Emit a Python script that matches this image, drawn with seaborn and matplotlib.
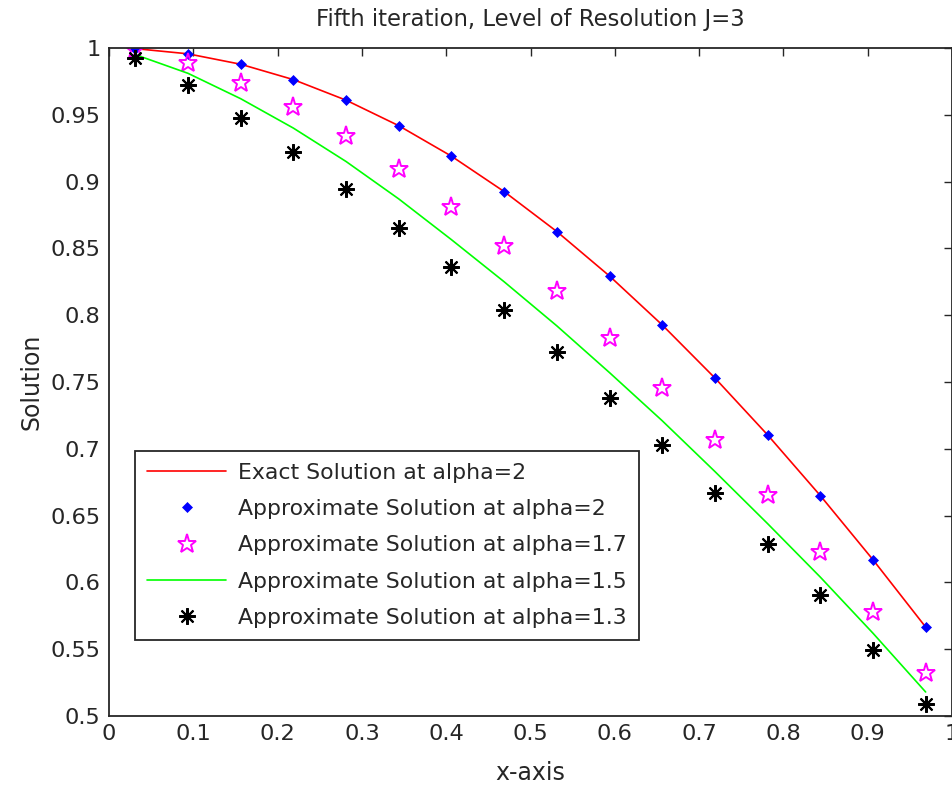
import matplotlib
matplotlib.use("Agg")
import matplotlib.pyplot as plt
import seaborn as sns
import numpy as np

# ---- data ----
x_nodes = [0.03125, 0.09375, 0.15625, 0.21875, 0.28125, 0.34375, 0.40625, 0.46875,
           0.53125, 0.59375, 0.65625, 0.71875, 0.78125, 0.84375, 0.90625, 0.96875]
exact_a2 = [0.9995, 0.9956, 0.9878, 0.9763, 0.9609, 0.9418, 0.9190, 0.8925,
            0.8626, 0.8293, 0.7927, 0.7530, 0.7104, 0.6650, 0.6170, 0.5666]
approx_a2 = [0.9995, 0.9956, 0.9878, 0.9763, 0.9609, 0.9418, 0.9190, 0.8925,
             0.8626, 0.8293, 0.7927, 0.7530, 0.7104, 0.6650, 0.6170, 0.5666]
approx_a17 = [0.9985, 0.9888, 0.9738, 0.9558, 0.9341, 0.9094, 0.8810, 0.8518,
              0.8180, 0.7830, 0.7455, 0.7066, 0.6654, 0.6228, 0.5778, 0.5322]
approx_a15 = [0.9950, 0.9810, 0.9620, 0.9400, 0.9150, 0.8870, 0.8565, 0.8250,
              0.7920, 0.7570, 0.7210, 0.6830, 0.6440, 0.6040, 0.5620, 0.5180]
approx_a13 = [0.9925, 0.9723, 0.9476, 0.9222, 0.8945, 0.8653, 0.8361, 0.8040,
              0.7725, 0.7380, 0.7028, 0.6669, 0.6287, 0.5906, 0.5494, 0.5090]

labels = ["Exact Solution at alpha=2", "Approximate Solution at alpha=2",
          "Approximate Solution at alpha=1.7", "Approximate Solution at alpha=1.5",
          "Approximate Solution at alpha=1.3"]
xticks = [0, 0.1, 0.2, 0.3, 0.4, 0.5, 0.6, 0.7, 0.8, 0.9, 1.0]
xtick_labels = ["0", "0.1", "0.2", "0.3", "0.4", "0.5", "0.6", "0.7", "0.8", "0.9", "1"]
yticks = [0.5, 0.55, 0.6, 0.65, 0.7, 0.75, 0.8, 0.85, 0.9, 0.95, 1.0]
ytick_labels = ["0.5", "0.55", "0.6", "0.65", "0.7", "0.75", "0.8", "0.85", "0.9", "0.95", "1"]
title = "Fifth iteration, Level of Resolution J=3"

# ---- style ----
sns.set_style("white")
plt.rcParams["font.family"] = ["DejaVu Sans"]

fig = plt.figure(figsize=(9.52, 7.86), dpi=100)
ax = fig.add_axes([0.1145, 0.089, 0.8855, 0.850])

sns.lineplot(x=x_nodes, y=exact_a2, ax=ax, color="#ff0000", linewidth=1.2,
             label=labels[0], sort=False)
sns.lineplot(x=x_nodes, y=approx_a2, ax=ax, color="#0000ff", linestyle="",
             marker="D", markersize=5, markeredgecolor="#0000ff",
             markerfacecolor="#0000ff", markeredgewidth=0.5, label=labels[1], sort=False)
sns.lineplot(x=x_nodes, y=approx_a17, ax=ax, color="#ff00ff", linestyle="",
             marker="*", markersize=14, markeredgecolor="#ff00ff",
             markerfacecolor="none", markeredgewidth=1.4, label=labels[2], sort=False)
sns.lineplot(x=x_nodes, y=approx_a15, ax=ax, color="#00ff00", linewidth=1.2,
             label=labels[3], sort=False)
sns.lineplot(x=x_nodes, y=approx_a13, ax=ax, color="black", linestyle="",
             marker=(8, 2, 0), markersize=12, markeredgecolor="black",
             markerfacecolor="black", markeredgewidth=1.5, label=labels[4], sort=False)

ax.set_xlim(0, 1)
ax.set_ylim(0.5, 1)
ax.set_xticks(xticks)
ax.set_xticklabels(xtick_labels)
ax.set_yticks(yticks)
ax.set_yticklabels(ytick_labels)
ax.tick_params(direction="in", length=6, width=1.0, top=True, right=True,
               labelsize=16.2, colors="#262626", pad=6)
for s in ax.spines.values():
    s.set_color("#262626")
    s.set_linewidth(1.3)

ax.set_title(title, fontsize=16.4, color="#262626", pad=16)
ax.set_xlabel("x-axis", fontsize=17, color="#262626", labelpad=12)
ax.set_ylabel("Solution", fontsize=17, color="#262626", labelpad=5)

leg = ax.legend(loc="upper left", bbox_to_anchor=(0.031, 0.397), borderaxespad=0,
                fontsize=15.8, frameon=True, fancybox=False, framealpha=1,
                edgecolor="#262626", handlelength=3.6, handletextpad=0.55,
                labelspacing=0.74, borderpad=0.55)
leg.get_frame().set_linewidth(1.3)

fig.savefig("out.png", dpi=100)
